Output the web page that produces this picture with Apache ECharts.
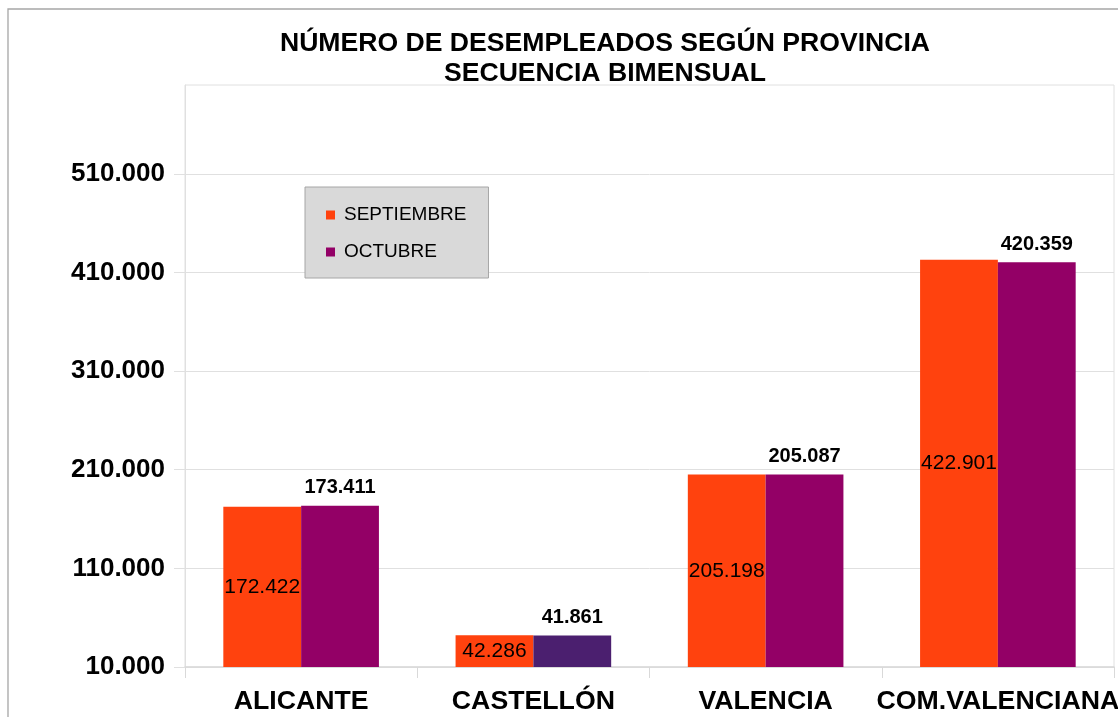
<!DOCTYPE html>
<html>
<head>
<meta charset="utf-8">
<script src="https://cdn.jsdelivr.net/npm/echarts@6/dist/echarts.min.js"></script>
<style>
html,body{margin:0;padding:0;background:#fff;}
#chart{width:1118px;height:717px;}
</style>
</head>
<body>
<div id="chart"></div>
<script>
const categories = ['ALICANTE', 'CASTELLÓN', 'VALENCIA', 'COM.VALENCIANA'];
const seriesNames = ['SEPTIEMBRE', 'OCTUBRE'];
const septiembre = [172422, 42286, 205198, 422901];
const octubre = [173411, 41861, 205087, 420359];
const yTicks = [10000, 110000, 210000, 310000, 410000, 510000];
const titleLines = ['NÚMERO DE DESEMPLEADOS SEGÚN PROVINCIA', 'SECUENCIA BIMENSUAL'];

const FONT = '"Liberation Sans", Arial, sans-serif';
const fmt = v => v.toLocaleString('de-DE');

const chart = echarts.init(document.getElementById('chart'));
chart.setOption({
  animation: false,
  textStyle: { fontFamily: FONT },
  graphic: [{
    type: 'rect', z: -10, silent: true,
    shape: { x: 8, y: 9, width: 1300, height: 900 },
    style: { fill: 'none', stroke: '#a6a6a6', lineWidth: 1.3 }
  }],
  title: {
    text: titleLines.join('\n'),
    left: 600, top: 24, textAlign: 'center',
    textStyle: { fontFamily: FONT, fontSize: 26.6, fontWeight: 'bold', color: '#000', lineHeight: 30 }
  },
  legend: {
    orient: 'vertical',
    left: 305, top: 187,
    padding: [18, 22, 16, 21],
    backgroundColor: '#d9d9d9',
    borderColor: '#a6a6a6', borderWidth: 1,
    itemWidth: 9, itemHeight: 9, itemGap: 17,
    icon: 'rect',
    data: seriesNames,
    textStyle: { fontFamily: FONT, fontSize: 19, color: '#000', lineHeight: 20, padding: [0, 0, 0, 4] }
  },
  grid: {
    left: 185, right: 4, top: 85, bottom: 50,
    containLabel: false, outerBoundsMode: 'none',
    show: true, borderColor: '#e0e0e0', borderWidth: 1
  },
  xAxis: {
    type: 'category',
    data: categories,
    axisLine: { lineStyle: { color: '#d9d9d9', width: 1.5 } },
    axisTick: { show: true, interval: 0, length: 11, lineStyle: { color: '#d9d9d9' } },
    axisLabel: { interval: 0, margin: 21, fontFamily: FONT, fontSize: 26.7, fontWeight: 'bold', color: '#000' }
  },
  yAxis: {
    type: 'value',
    min: 10000, max: 600000, interval: 100000,
    axisLine: { show: true, lineStyle: { color: '#e0e0e0' } },
    axisTick: { show: true, length: 11, lineStyle: { color: '#e0e0e0' }, customValues: yTicks },
    splitLine: { show: true, lineStyle: { color: '#e0e0e0' } },
    axisLabel: {
      margin: 20, fontFamily: FONT, fontSize: 26, fontWeight: 'bold', color: '#000',
      customValues: yTicks,
      formatter: v => fmt(v)
    }
  },
  series: [
    {
      name: seriesNames[0], type: 'bar',
      data: septiembre,
      barGap: '0%', barCategoryGap: '33%',
      itemStyle: { color: '#ff420e' },
      label: { show: true, position: 'inside', fontFamily: FONT, fontSize: 21, color: '#000', formatter: p => fmt(p.value) }
    },
    {
      name: seriesNames[1], type: 'bar',
      data: octubre.map((v, i) => i === 1 ? { value: v, itemStyle: { color: '#4b1f6f' } } : v),
      barGap: '0%', barCategoryGap: '33%',
      itemStyle: { color: '#930066' },
      label: { show: true, position: 'top', distance: 8, fontFamily: FONT, fontSize: 20, fontWeight: 'bold', color: '#000', formatter: p => fmt(p.value) }
    }
  ]
});
</script>
</body>
</html>
